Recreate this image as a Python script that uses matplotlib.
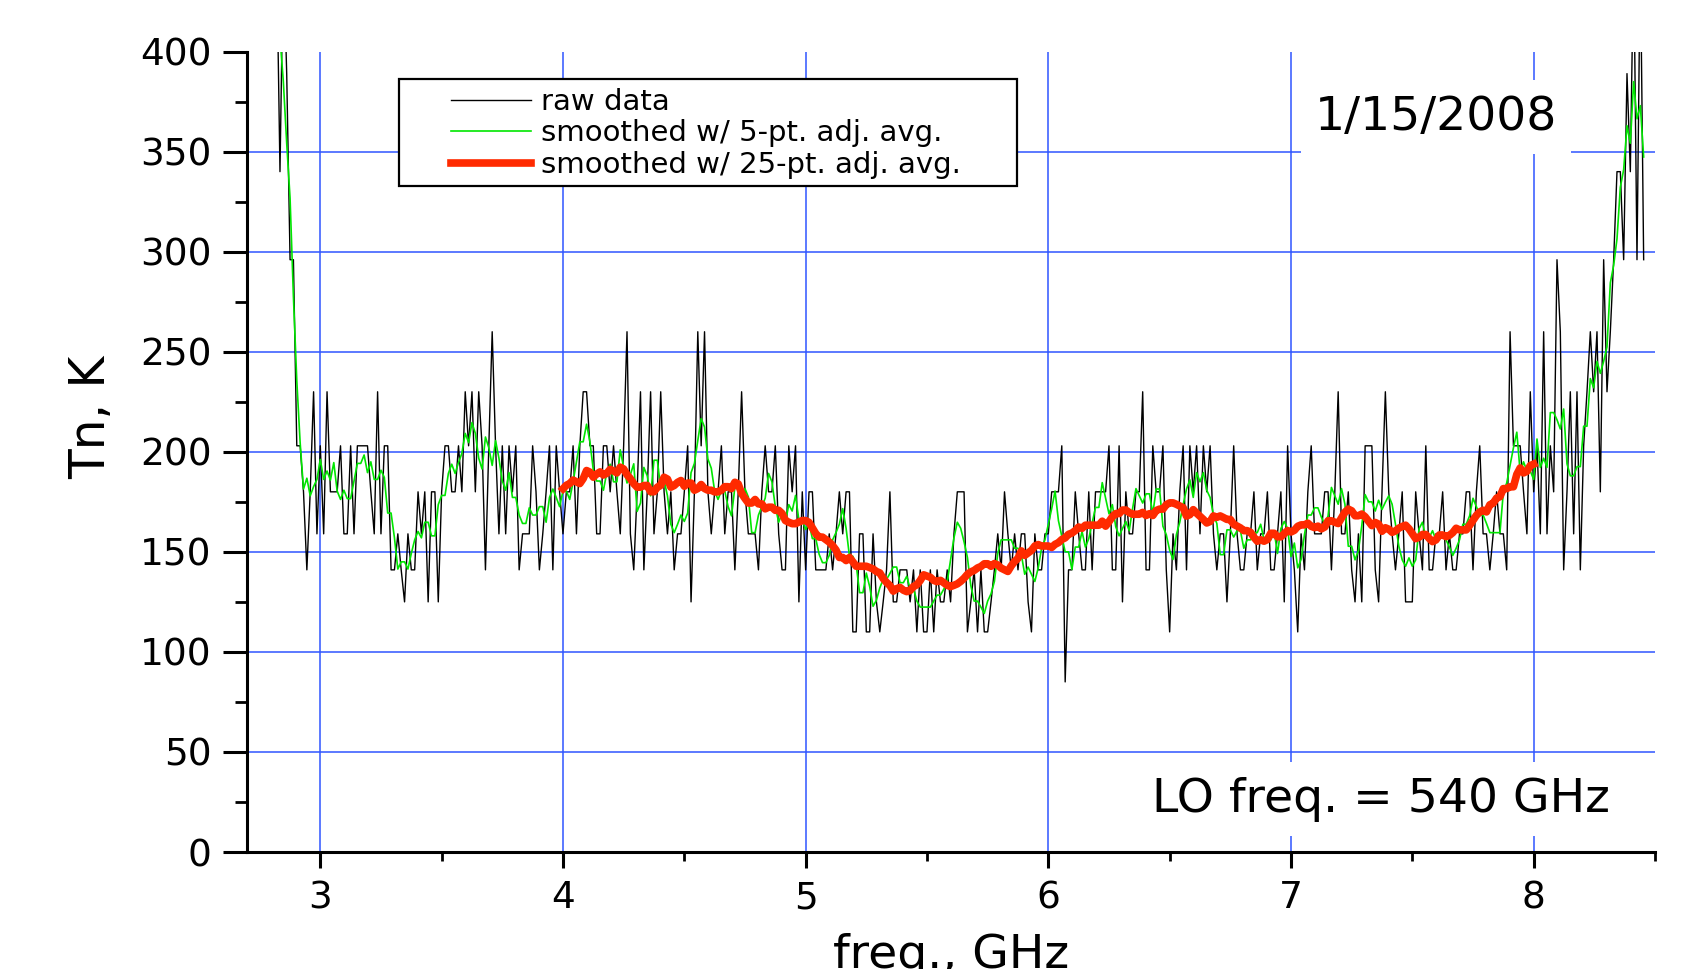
import numpy as np
import pandas as pd
import matplotlib
matplotlib.use("Agg")
from matplotlib import pyplot as plt
from matplotlib.patches import Rectangle
from matplotlib.ticker import MultipleLocator

# raw Tn readings (K), one list per frequency span
tn_282_300 = [450, 340, 450, 389, 296, 296, 203, 203, 180, 141, 180, 230, 159]
tn_300_350 = [203, 159, 230, 180, 180, 180, 203, 159, 159, 203, 159, 203, 203, 203, 203, 180, 159, 230,
              159, 203, 203, 141, 141, 159, 141, 125, 159, 141, 141, 180, 159, 180, 125, 180, 180, 125]
tn_350_400 = [180, 203, 203, 180, 180, 203, 180, 230, 203, 230, 180, 230, 203, 141, 203, 260, 203, 159,
              203, 159, 203, 180, 203, 141, 159, 159, 159, 203, 180, 141, 159, 180, 203, 141, 203, 180]
tn_400_450 = [159, 180, 180, 203, 159, 203, 230, 230, 203, 203, 159, 159, 203, 203, 180, 203, 180, 159,
              203, 260, 159, 141, 180, 230, 141, 180, 230, 159, 180, 230, 180, 159, 180, 141, 159, 159]
tn_450_500 = [180, 203, 125, 180, 260, 203, 260, 180, 159, 180, 180, 203, 159, 180, 180, 141, 180, 230,
              180, 159, 159, 159, 141, 180, 203, 180, 180, 203, 159, 141, 141, 203, 180, 203, 125, 180]
tn_500_550 = [141, 180, 180, 141, 141, 141, 141, 159, 141, 159, 180, 159, 180, 180, 110, 110, 159, 159,
              110, 110, 159, 125, 110, 125, 141, 180, 125, 125, 141, 141, 141, 125, 141, 110, 141, 110]
tn_550_600 = [110, 141, 110, 141, 125, 125, 141, 125, 159, 180, 180, 180, 110, 125, 141, 110, 141, 110,
              110, 125, 141, 159, 141, 180, 159, 141, 159, 141, 159, 159, 125, 110, 159, 141, 141, 159]
tn_600_650 = [159, 180, 180, 180, 203, 85, 141, 141, 180, 159, 141, 141, 180, 141, 180, 180, 180, 180,
              203, 141, 141, 203, 125, 180, 159, 159, 180, 180, 230, 141, 141, 203, 180, 180, 203, 141]
tn_650_700 = [110, 159, 141, 180, 203, 141, 203, 180, 203, 159, 203, 180, 203, 159, 141, 159, 159, 125,
              159, 203, 159, 141, 141, 159, 159, 180, 141, 159, 159, 180, 141, 141, 159, 180, 125, 203]
tn_700_750 = [159, 141, 110, 159, 141, 180, 203, 159, 159, 159, 180, 180, 141, 180, 230, 159, 159, 180,
              141, 125, 159, 125, 203, 203, 203, 141, 125, 180, 230, 180, 159, 141, 159, 180, 125, 125]
tn_750_800 = [125, 180, 159, 141, 203, 141, 141, 159, 159, 180, 141, 159, 141, 141, 159, 159, 180, 180,
              141, 180, 203, 159, 159, 141, 159, 180, 159, 159, 141, 260, 203, 203, 203, 180, 159, 230]
tn_800_846 = [180, 203, 159, 260, 159, 203, 180, 296, 260, 141, 180, 230, 159, 230, 141, 203, 230, 260,
              230, 260, 180, 296, 230, 260, 296, 340, 340, 296, 389, 340, 450, 296, 450, 296]

spans = [(2.82, 3.0, tn_282_300), (3.0, 3.5, tn_300_350), (3.5, 4.0, tn_350_400),
         (4.0, 4.5, tn_400_450), (4.5, 5.0, tn_450_500), (5.0, 5.5, tn_500_550),
         (5.5, 6.0, tn_550_600), (6.0, 6.5, tn_600_650), (6.5, 7.0, tn_650_700),
         (7.0, 7.5, tn_700_750), (7.5, 8.0, tn_750_800), (8.0, 8.467, tn_800_846)]

freq = np.concatenate([np.linspace(a, b, len(v), endpoint=False) for a, b, v in spans])
tn = np.concatenate([v for a, b, v in spans]).astype(float)

# adjacent averaging, as in the legend
s = pd.Series(tn)
tn5 = s.rolling(5, center=True, min_periods=1).mean().values
tn25 = s.rolling(25, center=True, min_periods=1).mean().values
m = (freq >= 4.0 - 1e-9) & (freq <= 8.0 + 1e-9)

gc = '#2f55ff'

fig = plt.figure(figsize=(16.87, 9.69), dpi=100)
ax = fig.add_axes([0.14671, 0.12074, 0.83432, 0.82601])

for v in range(50, 400, 50):
    ax.axhline(v, color=gc, lw=1.1, zorder=0.5)
for v in range(3, 9):
    ax.axvline(v, color=gc, lw=1.1, zorder=0.5)

l1, = ax.plot(freq, tn, color='k', lw=1.0, zorder=2)
l2, = ax.plot(freq, tn5, color='#00e600', lw=1.2, zorder=2.1)
l3, = ax.plot(freq[m], tn25[m], color='#ff2a00', lw=5.5, zorder=2.2)

ax.set_xlim(2.7, 8.5)
ax.set_ylim(0, 400)
ax.set_xticks(range(3, 9))
ax.set_yticks(range(0, 401, 50))
ax.xaxis.set_minor_locator(MultipleLocator(0.5))
ax.yaxis.set_minor_locator(MultipleLocator(25))

ax.spines['top'].set_visible(False)
ax.spines['right'].set_visible(False)
ax.spines['left'].set_linewidth(2.2)
ax.spines['bottom'].set_linewidth(2.2)

ax.tick_params(axis='y', which='major', length=17, width=2.2, labelsize=27, pad=9)
ax.tick_params(axis='y', which='minor', length=9, width=2.0)
ax.tick_params(axis='x', which='major', length=11.5, width=2.2, labelsize=27, pad=9)
ax.tick_params(axis='x', which='minor', length=6.5, width=2.0)

ax.set_xlabel('freq., GHz', fontsize=34)
ax.xaxis.set_label_coords(0.5, -0.1010)
ax.set_ylabel('Tn, K', fontsize=35)
ax.yaxis.set_label_coords(-0.0938, 0.5435)

box = dict(boxstyle='square,pad=0.3', fc='white', ec='none')
ax.text(7.598, 361, '1/15/2008', fontsize=34, ha='center', va='baseline', bbox=box, zorder=3)
ax.text(7.371, 20.2, 'LO freq. = 540 GHz', fontsize=34, ha='center', va='baseline', bbox=box, zorder=3)

fig.add_artist(Rectangle((0.2365, 0.8080), 0.3663, 0.1109, transform=fig.transFigure,
                         fc='white', ec='black', lw=1.6, zorder=4))
leg = fig.legend([l1, l2, l3], ['raw data', 'smoothed w/ 5-pt. adj. avg.', 'smoothed w/ 25-pt. adj. avg.'],
                 loc='upper left', bbox_to_anchor=(0.2676, 0.9093), frameon=False, fontsize=21,
                 handlelength=2.74, handletextpad=0.34, labelspacing=0.12, borderpad=0, borderaxespad=0)
leg.set_zorder(5)

fig.savefig('out.png', dpi=100)
